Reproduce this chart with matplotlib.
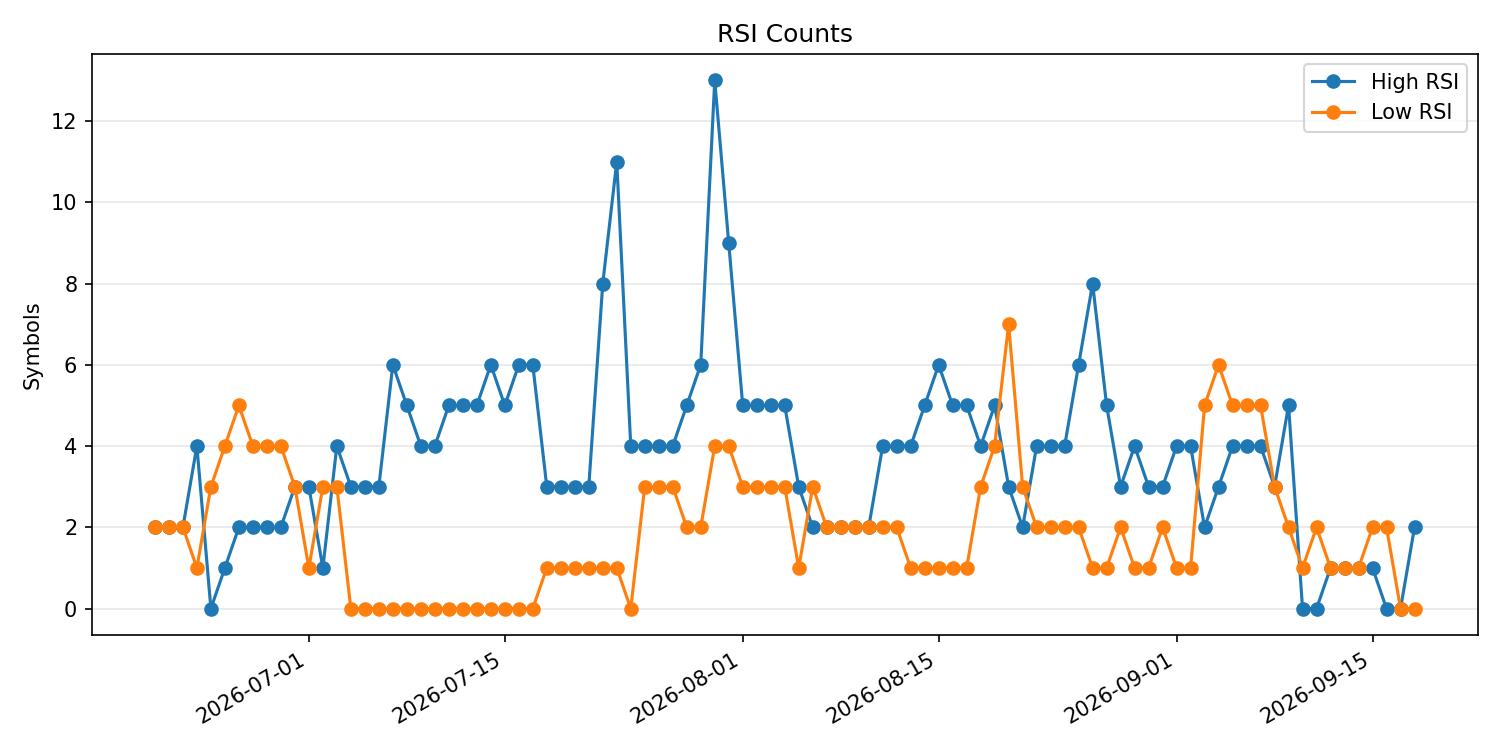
import matplotlib
matplotlib.use("Agg")
import matplotlib.pyplot as plt
import pandas as pd

dates = pd.date_range("2026-06-20", "2026-09-18", freq="D")

high_rsi = [2, 2, 2, 4, 0, 1, 2, 2, 2, 2, 3, 3, 1, 4, 3, 3, 3, 6, 5, 4,
            4, 5, 5, 5, 6, 5, 6, 6, 3, 3, 3, 3, 8, 11, 4, 4, 4, 4, 5, 6,
            13, 9, 5, 5, 5, 5, 3, 2, 2, 2, 2, 2, 4, 4, 4, 5, 6, 5, 5, 4,
            5, 3, 2, 4, 4, 4, 6, 8, 5, 3, 4, 3, 3, 4, 4, 2, 3, 4, 4, 4,
            3, 5, 0, 0, 1, 1, 1, 1, 0, 0, 2]

low_rsi = [2, 2, 2, 1, 3, 4, 5, 4, 4, 4, 3, 1, 3, 3, 0, 0, 0, 0, 0, 0,
           0, 0, 0, 0, 0, 0, 0, 0, 1, 1, 1, 1, 1, 1, 0, 3, 3, 3, 2, 2,
           4, 4, 3, 3, 3, 3, 1, 3, 2, 2, 2, 2, 2, 2, 1, 1, 1, 1, 1, 3,
           4, 7, 3, 2, 2, 2, 2, 1, 1, 2, 1, 1, 2, 1, 1, 5, 6, 5, 5, 5,
           3, 2, 1, 2, 1, 1, 1, 2, 2, 0, 0]

fig, ax = plt.subplots(figsize=(10, 5), dpi=150)
ax.plot(dates, high_rsi, marker="o", label="High RSI")
ax.plot(dates, low_rsi, marker="o", label="Low RSI")
ax.set_title("RSI Counts")
ax.set_ylabel("Symbols")
ax.grid(axis="y", alpha=0.3)
ax.legend(loc="upper right")
fig.autofmt_xdate()
fig.tight_layout()
fig.savefig("out.png")
